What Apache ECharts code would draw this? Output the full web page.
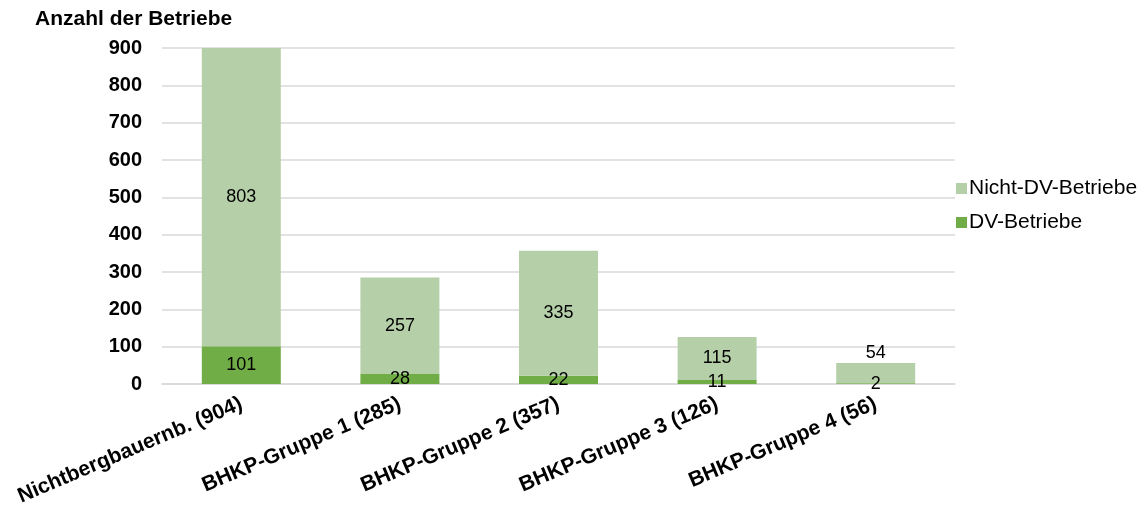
<!DOCTYPE html>
<html>
<head>
<meta charset="utf-8">
<script src="https://cdn.jsdelivr.net/npm/echarts@6/dist/echarts.min.js"></script>
<style>
  html, body { margin: 0; padding: 0; background: #ffffff; }
  #chart { width: 1148px; height: 512px; }
</style>
</head>
<body>
<div id="chart"></div>
<script>
// Betriebe nach Erschwernisgruppe, aufgeteilt in DV- und Nicht-DV-Betriebe
const categories = [
  'Nichtbergbauernb. (904)',
  'BHKP-Gruppe 1 (285)',
  'BHKP-Gruppe 2 (357)',
  'BHKP-Gruppe 3 (126)',
  'BHKP-Gruppe 4 (56)'
];
const dvBetriebe = [101, 28, 22, 11, 2];
const nichtDvBetriebe = [803, 257, 335, 115, 54];
const yTicks = [0, 100, 200, 300, 400, 500, 600, 700, 800, 900];

const FONT = '"Liberation Sans", Arial, sans-serif';
const LIGHT = '#b5d0a8';
const DARK = '#70ad47';

const chart = echarts.init(document.getElementById('chart'), null, { renderer: 'canvas' });

// the smallest stack gets its upper label placed above the bar
const nichtDvData = nichtDvBetriebe.map((v, i) =>
  i === nichtDvBetriebe.length - 1
    ? { value: v, label: { position: 'top', distance: 1 } }
    : v
);

chart.setOption({
  animation: false,
  textStyle: { fontFamily: FONT },
  graphic: [{
    type: 'text',
    left: 35,
    top: 9,
    style: { text: 'Anzahl der Betriebe', font: 'bold 21px ' + FONT, fill: '#000' }
  }],
  legend: {
    orient: 'vertical',
    left: 951,
    top: 173,
    itemGap: 13,
    itemWidth: 11,
    itemHeight: 11,
    icon: 'rect',
    data: ['Nicht-DV-Betriebe', 'DV-Betriebe'],
    textStyle: { fontSize: 21, color: '#000', fontFamily: FONT, padding: [0, 0, 0, -3] }
  },
  grid: { left: 162, right: 193, top: 48, bottom: 128, containLabel: false },
  xAxis: {
    type: 'category',
    data: categories,
    axisLine: { show: true, lineStyle: { color: '#d9d9d9', width: 1.5 } },
    axisTick: { show: false },
    axisLabel: {
      interval: 0,
      rotate: 23,
      margin: 19,
      fontSize: 21,
      fontWeight: 'bold',
      color: '#000',
      fontFamily: FONT
    }
  },
  yAxis: {
    type: 'value',
    min: yTicks[0],
    max: yTicks[yTicks.length - 1],
    interval: 100,
    axisLine: { show: false },
    axisTick: { show: false },
    splitLine: { lineStyle: { color: '#d9d9d9', width: 1.5 } },
    axisLabel: {
      margin: 20,
      fontSize: 20,
      fontWeight: 'bold',
      color: '#000',
      fontFamily: FONT
    }
  },
  series: [
    {
      name: 'DV-Betriebe',
      type: 'bar',
      stack: 'gesamt',
      barWidth: 79,
      data: dvBetriebe,
      itemStyle: { color: DARK },
      label: { show: true, position: 'inside', fontSize: 18, color: '#000', fontFamily: FONT }
    },
    {
      name: 'Nicht-DV-Betriebe',
      type: 'bar',
      stack: 'gesamt',
      barWidth: 79,
      data: nichtDvData,
      itemStyle: { color: LIGHT },
      label: { show: true, position: 'inside', fontSize: 18, color: '#000', fontFamily: FONT }
    }
  ]
});
</script>
</body>
</html>
